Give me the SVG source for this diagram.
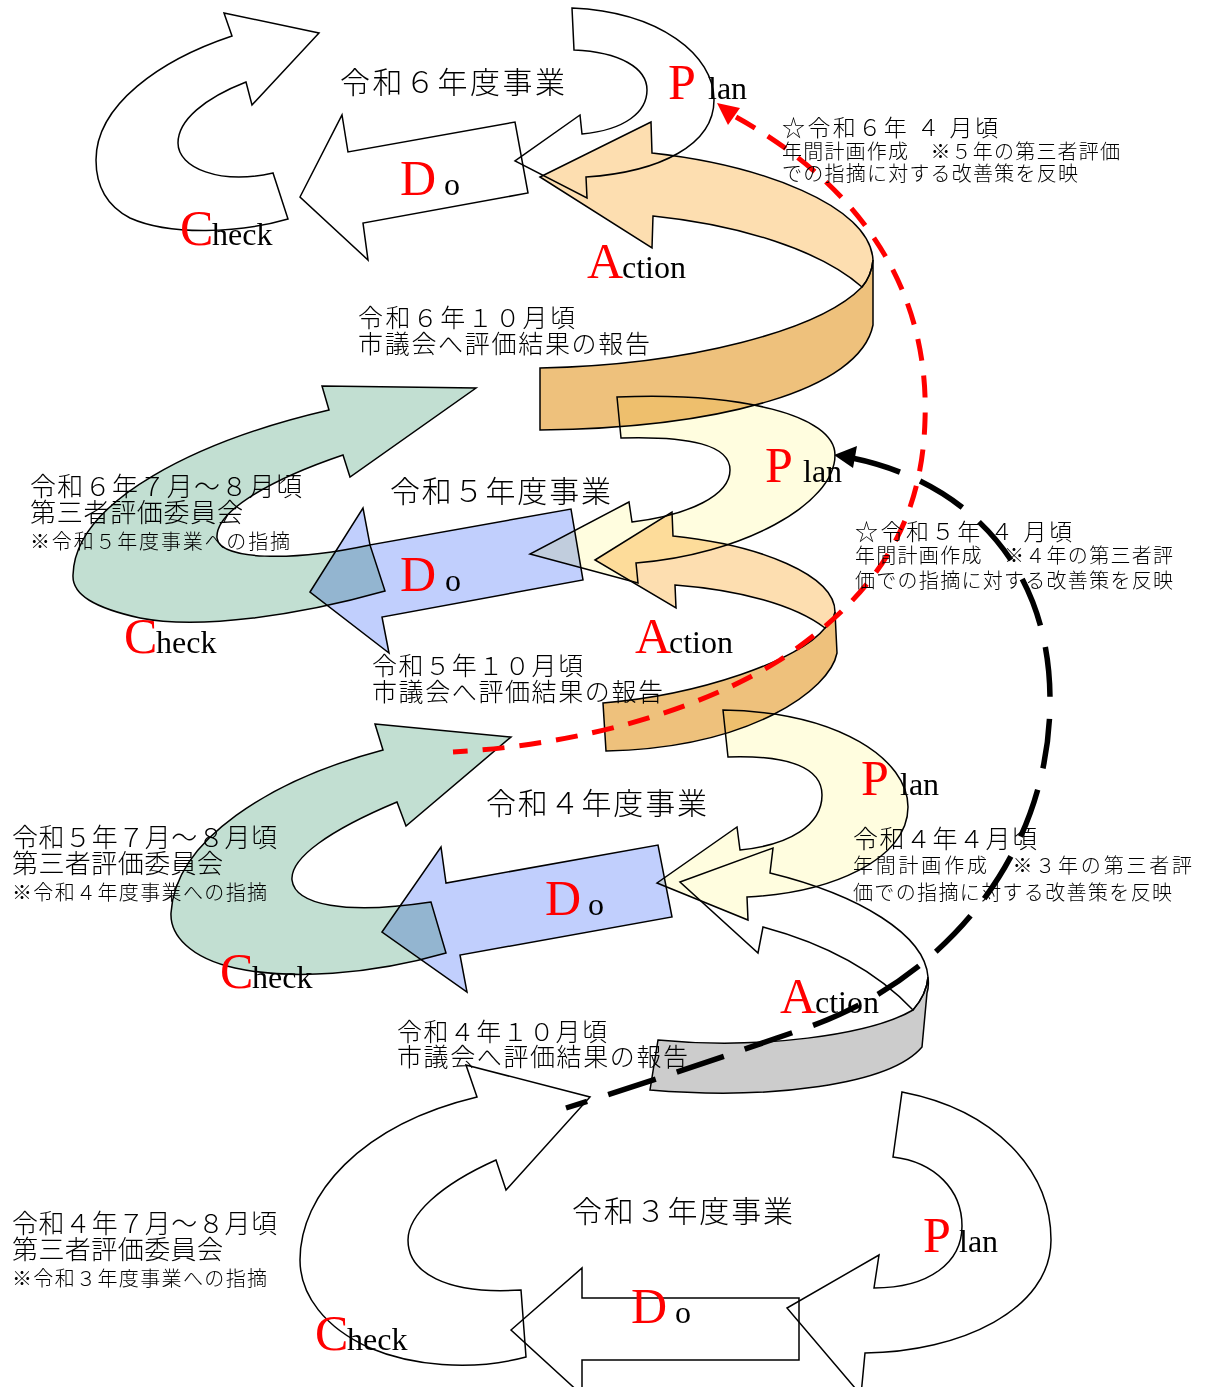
<svg xmlns="http://www.w3.org/2000/svg" width="1206" height="1387" viewBox="0 0 1206 1387">
<style>
.s{stroke:#000;stroke-width:1.5;mix-blend-mode:multiply}
.w{fill:#fff}.g{fill:#C2DFD2}.b{fill:#C1CFFD}.y{fill:#FFFDDF}.o1{fill:#FDDEB0}.o2{fill:#EEC17C}.gr{fill:#CCCCCC}
.jp{font-family:"Noto Sans CJK JP","Noto Sans",sans-serif;font-weight:300;fill:#000}
.t30{font-size:30px}.t25{font-size:25px}.t26{font-size:26px}.t23{font-size:23px}.t20{font-size:20px}
.big{font-family:"Liberation Serif",serif;font-size:50px;fill:#f00}
.sm{font-family:"Liberation Serif",serif;font-size:32px;fill:#000}
.rd{fill:none;stroke:#f00;stroke-width:5;stroke-dasharray:22 15}
.bd{fill:none;stroke:#000;stroke-width:5.5;stroke-dasharray:50 22}
</style>
<rect width="1206" height="1387" fill="#fff"/>

<g id="y3-check"><path class="s w" d="M466,1065 L590,1097 L506,1190 L496,1160 C440,1185 408,1215 408,1240 C408,1272 445,1295 521,1290 L526,1357 C470,1372 410,1365 370,1348 C325,1328 300,1295 300,1260 C300,1195 360,1125 477,1097 Z"/></g>
<g id="y3-do"><path class="s w" d="M511,1330 L582,1268 L582,1298 L799,1298 L799,1360 L582,1360 L582,1395 Z"/></g>
<g id="y3-plan"><path class="s w" d="M902,1092 C995,1110 1051,1170 1051,1240 C1051,1310 960,1352 865,1353 L861,1395 L787,1308 L879,1255 L874,1288 C930,1288 962,1262 962,1226 C962,1190 935,1162 893,1157 Z"/></g>

<g id="y4-action"><path class="s w" d="M680,882 L773,848 L770,873 C860,895 925,935 928,977 C927,990 920,1002 913,1010 C880,975 830,945 763,927 L758,953 Z"/><path class="s gr" d="M928,977 C929,985 928,990 927,993 L922,1047 C890,1085 770,1100 650,1090 L658,1040 C760,1050 870,1035 913,1010 C920,1002 927,990 928,977 Z"/></g>
<g id="y4-plan"><path class="s y" d="M723,710 C840,712 908,760 908,807 C908,860 830,893 747,897 L748,920 L657,883 L737,827 L740,850 C790,845 822,825 822,795 C822,768 790,755 728,757 Z"/></g>
<g id="y4-check"><path class="s g" d="M375,724 L511,737 L406,826 L397,802 C330,830 290,858 292,880 C295,905 345,915 431,902 L446,953 C370,975 290,980 235,968 C190,958 170,935 171,913 C175,840 270,780 383,750 Z"/></g>
<g id="y4-do"><path class="s b" d="M382,932 L441,847 L446,883 L658,845 L672,917 L460,955 L467,992 Z"/></g>

<g id="y5-action"><path class="s o2" d="M835,612 L837,653 C830,690 750,748 606,751 L603,703 C700,695 800,660 825,628 C830,624 834,618 835,612 Z"/><path class="s o1" d="M595,560 L672,512 L673,536 C760,545 835,575 835,612 C834,618 830,624 825,628 C795,605 740,590 675,585 L676,608 Z"/></g>
<g id="y5-plan"><path class="s y" d="M617,397 C740,392 835,415 835,455 C835,505 740,555 636,563 L638,583 L530,554 L629,502 L632,522 C690,515 730,495 730,470 C730,445 690,436 621,438 Z"/></g>
<g id="y5-check"><path class="s g" d="M322,386 L476,388 L350,477 L343,455 C275,478 215,510 217,538 C220,560 290,562 370,545 L385,591 C300,615 200,630 140,618 C95,608 72,595 73,575 C75,500 200,440 329,410 Z"/></g>
<g id="y5-do"><path class="s b" d="M310,592 L363,508 L370,545 L571,509 L583,580 L382,617 L389,653 Z"/></g>

<g id="y6-check"><path class="s w" d="M224,13 L319,33 L252,105 L246,82 C205,98 178,120 178,143 C178,168 220,185 273,173 L288,219 C240,233 170,236 130,218 C105,205 96,185 96,160 C96,105 160,60 232,36 Z"/></g>
<g id="y6-do"><path class="s w" d="M300,197 L342,115 L348,152 L515,122 L528,193 L363,223 L368,260 Z"/></g>
<g id="y6-plan"><path class="s w" d="M572,8 C660,12 714,55 714,100 C714,145 660,172 586,177 L587,198 L515,161 L580,115 L582,134 C625,130 647,112 647,90 C647,68 620,52 574,50 Z"/></g>
<g id="y6-action"><path class="s o2" d="M873,260 L873,325 C860,390 720,428 540,430 L540,368 C690,365 820,330 862,287 C868,280 872,270 873,260 Z"/><path class="s o1" d="M540,177 L651,122 L652,153 C760,165 870,205 873,260 C872,270 868,280 862,287 C820,250 740,225 653,216 L652,248 Z"/></g>

<g id="connectors">
<path class="rd" d="M736,117 C850,180 930,280 925,420 C922,530 870,600 780,660 C700,710 580,745 453,752"/>
<polygon points="717,103 740,108 728,125" fill="#f00"/>
<path class="bd" d="M852,458 C960,480 1050,560 1050,700 C1050,850 950,980 800,1030 C720,1058 640,1085 566,1108"/>
<polygon points="834,455 857,446 853,468" fill="#000"/>
</g>

<g id="labels-y6">
<text class="jp t30" x="340" y="93" textLength="225">令和６年度事業</text>
<text class="jp t23" x="782" y="136" textLength="216">☆令和６年 ４ 月頃</text>
<text class="jp t20" x="782" y="159" textLength="338">年間計画作成　※５年の第三者評価</text>
<text class="jp t20" x="782" y="181" textLength="296">での指摘に対する改善策を反映</text>
<text class="jp t25" x="358" y="327" textLength="217">令和６年１０月頃</text>
<text class="jp t25" x="358" y="353" textLength="292">市議会へ評価結果の報告</text>
<text class="big" x="668" y="99">P</text><text class="sm" x="708" y="99">lan</text>
<text class="big" x="400" y="195">D</text><text class="sm" x="444" y="195">o</text>
<text class="big" x="180" y="245">C</text><text class="sm" x="212" y="245">heck</text>
<text class="big" x="587" y="278">A</text><text class="sm" x="622" y="278">ction</text>
</g>
<g id="labels-y5">
<text class="jp t26" x="30" y="496" textLength="272">令和６年７月～８月頃</text>
<text class="jp t26" x="30" y="522" textLength="213">第三者評価委員会</text>
<text class="jp t20" x="30" y="549" textLength="260">※令和５年度事業への指摘</text>
<text class="jp t30" x="390" y="502" textLength="221">令和５年度事業</text>
<text class="jp t23" x="855" y="540" textLength="217">☆令和５年 ４ 月頃</text>
<text class="jp t20" x="855" y="563" textLength="318">年間計画作成　※４年の第三者評</text>
<text class="jp t20" x="855" y="588" textLength="318">価での指摘に対する改善策を反映</text>
<text class="jp t25" x="372" y="675" textLength="211">令和５年１０月頃</text>
<text class="jp t25" x="372" y="701" textLength="291">市議会へ評価結果の報告</text>
<text class="big" x="765" y="482">P</text><text class="sm" x="803" y="482">lan</text>
<text class="big" x="400" y="591">D</text><text class="sm" x="445" y="591">o</text>
<text class="big" x="124" y="653">C</text><text class="sm" x="156" y="653">heck</text>
<text class="big" x="635" y="653">A</text><text class="sm" x="669" y="653">ction</text>
</g>
<g id="labels-y4">
<text class="jp t26" x="12" y="847" textLength="265">令和５年７月～８月頃</text>
<text class="jp t26" x="12" y="873" textLength="211">第三者評価委員会</text>
<text class="jp t20" x="12" y="900" textLength="255">※令和４年度事業への指摘</text>
<text class="jp t30" x="486" y="814" textLength="221">令和４年度事業</text>
<text class="jp t25" x="853" y="848" textLength="184">令和４年４月頃</text>
<text class="jp t20" x="853" y="873" textLength="339">年間計画作成　※３年の第三者評</text>
<text class="jp t20" x="853" y="900" textLength="319">価での指摘に対する改善策を反映</text>
<text class="jp t25" x="397" y="1041" textLength="210">令和４年１０月頃</text>
<text class="jp t25" x="397" y="1066" textLength="291">市議会へ評価結果の報告</text>
<text class="big" x="861" y="795">P</text><text class="sm" x="900" y="795">lan</text>
<text class="big" x="545" y="915">D</text><text class="sm" x="588" y="915">o</text>
<text class="big" x="220" y="988">C</text><text class="sm" x="252" y="988">heck</text>
<text class="big" x="780" y="1013">A</text><text class="sm" x="815" y="1013">ction</text>
</g>
<g id="labels-y3">
<text class="jp t26" x="12" y="1233" textLength="265">令和４年７月～８月頃</text>
<text class="jp t26" x="12" y="1259" textLength="211">第三者評価委員会</text>
<text class="jp t20" x="12" y="1286" textLength="255">※令和３年度事業への指摘</text>
<text class="jp t30" x="572" y="1222" textLength="221">令和３年度事業</text>
<text class="big" x="923" y="1252">P</text><text class="sm" x="959" y="1252">lan</text>
<text class="big" x="631" y="1323">D</text><text class="sm" x="675" y="1323">o</text>
<text class="big" x="315" y="1350">C</text><text class="sm" x="347" y="1350">heck</text>
</g>
</svg>
